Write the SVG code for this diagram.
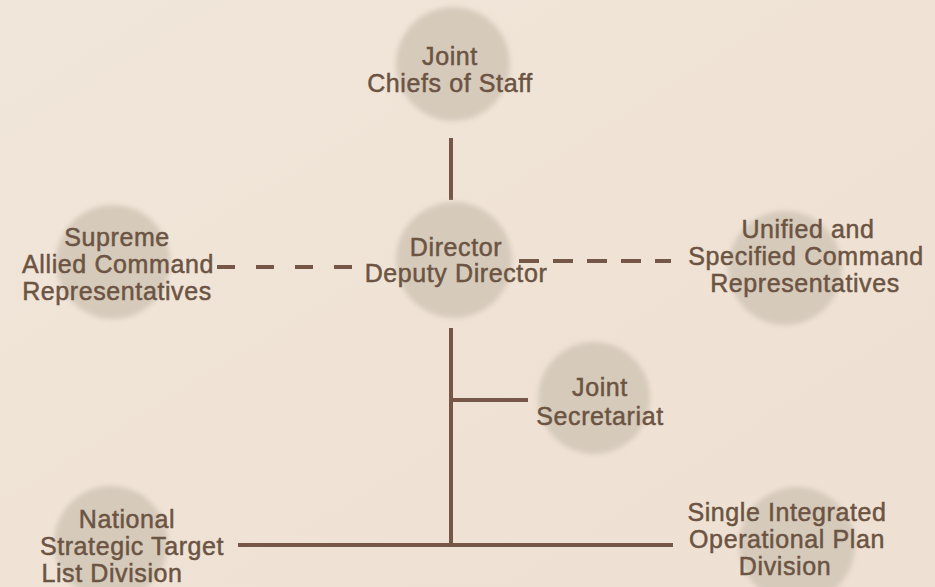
<svg xmlns="http://www.w3.org/2000/svg" width="935" height="587" viewBox="0 0 935 587">
<defs>
<filter id="soft" x="-20%" y="-20%" width="140%" height="140%"><feGaussianBlur stdDeviation="2.5"/></filter>
<linearGradient id="bg" x1="0" y1="0" x2="1" y2="1"><stop offset="0" stop-color="#f1e6da"/><stop offset="1" stop-color="#eee0d2"/></linearGradient>
<style>
.disc{fill:#d6cabb;filter:url(#soft)}
.t{font-family:"Liberation Sans",Arial,sans-serif;font-size:25px;fill:#6c5443;stroke:#6c5443;stroke-width:0.5px;letter-spacing:0.6px;text-anchor:middle}
.ln{stroke:#765646;stroke-width:4;fill:none}
.dash{stroke:#765646;stroke-width:4;fill:none}
</style>
</defs>
<rect width="935" height="587" fill="url(#bg)"/>
<g id="connectors">
<line class="ln" x1="451" y1="138" x2="451" y2="200"/>
<line class="dash" x1="217" y1="267" x2="354" y2="267" stroke-dasharray="18 21"/>
<line class="dash" x1="519" y1="261" x2="671" y2="261" stroke-dasharray="20 14"/>
<line class="ln" x1="451" y1="328" x2="451" y2="547"/>
<line class="ln" x1="451" y1="400" x2="528" y2="400"/>
<line class="ln" x1="238" y1="545" x2="673" y2="545"/>
</g>
<g id="jcs">
<circle class="disc" cx="453" cy="64" r="57"/>
<text class="t" x="450" y="65">Joint</text>
<text class="t" x="450" y="92">Chiefs of Staff</text>
</g>
<g id="director">
<circle class="disc" cx="454" cy="260" r="58"/>
<text class="t" x="456" y="256">Director</text>
<text class="t" x="456" y="282">Deputy Director</text>
</g>
<g id="sacr">
<circle class="disc" cx="113" cy="262" r="57"/>
<text class="t" x="117" y="246">Supreme</text>
<text class="t" x="118" y="273">Allied Command</text>
<text class="t" x="117" y="300">Representatives</text>
</g>
<g id="uscr">
<circle class="disc" cx="785" cy="268" r="57"/>
<text class="t" x="808" y="238">Unified and</text>
<text class="t" x="806" y="265">Specified Command</text>
<text class="t" x="805" y="292">Representatives</text>
</g>
<g id="js">
<circle class="disc" cx="594" cy="398" r="56"/>
<text class="t" x="600" y="396">Joint</text>
<text class="t" x="600" y="425">Secretariat</text>
</g>
<g id="nstl">
<circle class="disc" cx="111" cy="543" r="57"/>
<text class="t" x="127" y="528">National</text>
<text class="t" x="132" y="555">Strategic Target</text>
<text class="t" x="112" y="582">List Division</text>
</g>
<g id="siop">
<circle class="disc" cx="797" cy="545" r="58"/>
<text class="t" x="787" y="521">Single Integrated</text>
<text class="t" x="787" y="548">Operational Plan</text>
<text class="t" x="785" y="575">Division</text>
</g>
</svg>
